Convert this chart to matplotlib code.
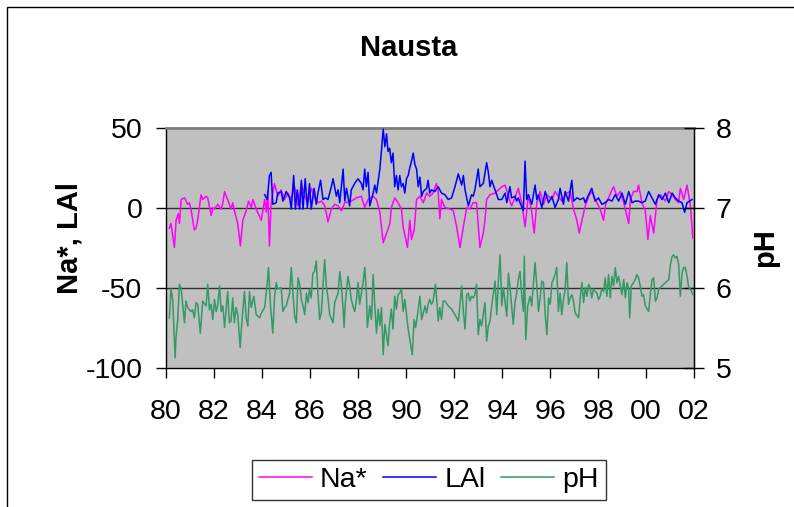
import matplotlib
matplotlib.use("Agg")
import matplotlib.pyplot as plt
from matplotlib.lines import Line2D
from matplotlib.patches import Rectangle
from matplotlib.ticker import FixedLocator, FuncFormatter

plt.rcParams['font.family'] = ['Liberation Sans', 'DejaVu Sans']
plt.rcParams['axes.unicode_minus'] = False

# ---- data -----------------------------------------------------------
na_year = [1980.14, 1980.21, 1980.35, 1980.42, 1980.51, 1980.56, 1980.63, 1980.77, 1980.90, 1980.97,
           1981.04, 1981.18, 1981.25, 1981.32, 1981.46, 1981.53, 1981.67, 1981.74, 1981.88, 1981.95,
           1982.02, 1982.16, 1982.30, 1982.37, 1982.44, 1982.51, 1982.57, 1982.71, 1982.78, 1982.85, 1982.99,
           1983.10, 1983.20, 1983.34, 1983.44, 1983.55, 1983.62, 1983.76, 1983.97,
           1984.11, 1984.18, 1984.24, 1984.31, 1984.38, 1984.52, 1984.66, 1984.80, 1984.94,
           1985.08, 1985.20, 1985.36, 1985.50, 1985.64, 1985.78, 1985.92,
           1986.06, 1986.20, 1986.34, 1986.48, 1986.62, 1986.75, 1986.89,
           1987.03, 1987.17, 1987.31, 1987.45, 1987.72, 1987.93,
           1988.14, 1988.28, 1988.42, 1988.63, 1988.77, 1988.91,
           1989.05, 1989.19, 1989.33, 1989.39, 1989.53, 1989.67, 1989.81, 1989.88,
           1990.06, 1990.16, 1990.23, 1990.34, 1990.44, 1990.58, 1990.72, 1990.86, 1990.99,
           1991.13, 1991.27, 1991.34, 1991.41, 1991.48, 1991.62, 1991.83, 1991.97,
           1992.11, 1992.25, 1992.39, 1992.53, 1992.66, 1992.80, 1992.94,
           1993.08, 1993.22, 1993.29, 1993.36, 1993.50, 1993.71, 1993.85, 1993.99,
           1994.13, 1994.27, 1994.40, 1994.54, 1994.68, 1994.82, 1994.96,
           1995.10, 1995.24, 1995.34, 1995.45, 1995.59, 1995.73, 1995.87,
           1996.08, 1996.21, 1996.35, 1996.49, 1996.70, 1996.84, 1996.98,
           1997.12, 1997.22, 1997.33, 1997.47, 1997.61, 1997.74, 1997.88,
           1998.09, 1998.23, 1998.33, 1998.44, 1998.58, 1998.65, 1998.79, 1998.93,
           1999.07, 1999.28, 1999.35, 1999.48, 1999.62, 1999.69, 1999.83, 1999.97,
           2000.08, 2000.18, 2000.32, 2000.46, 2000.60, 2000.81, 2000.95,
           2001.09, 2001.22, 2001.36, 2001.43, 2001.57, 2001.71, 2001.85, 2001.95]
na_val = [-13, -10, -25, -8, -4, -10, 5, 6, 2, 3,
          -1, -14, -13, -8, 8, 5, 7, 6, -5, 0,
          -1, 2, -1, 3, 10, 7, 5, -1, 3, -2, -10,
          -24, -8, -2, 4, 0, 5, -1, -8,
          5, -3, 10, -24, 3, 15, 7, 11, 5,
          9, 5, 13, 1, 15, 7, 3,
          12, 6, 3, 4, 1, -9, -1,
          2, 1, -2, 3, 4, 6,
          7, 0, 5, 7, 5, -3,
          -22, -16, -10, 0, 6, 3, -1, -12,
          -25, -8, -20, -14, 5, 7, 3, 9, 7,
          9, 15, 10, -7, 5, 0, -1, -2,
          -12, -25, -12, 0, -1, 3, 3,
          -25, -16, -8, 5, 8, 9, 11, 13,
          14, 7, 1, 6, 12, 3, -12,
          8, -3, -16, 3, 10, 2, 8,
          5, 10, 7, 4, 9, 10, -1,
          -8, -16, -8, 1, 7, 10, 5,
          -1, -8, 3, 6, 11, 13, 7, 10,
          3, -10, 5, 10, 10, 14, 3, -2,
          -20, -5, -16, 5, 8, 4, 10,
          8, 5, 3, 12, 5, 14, 1, -19]

lal_year = [1984.11, 1984.22, 1984.31, 1984.38, 1984.45, 1984.59, 1984.66, 1984.80, 1984.87,
            1985.01, 1985.15, 1985.22, 1985.32, 1985.39, 1985.47, 1985.57, 1985.64, 1985.71, 1985.80, 1985.89, 1985.98,
            1986.05, 1986.17, 1986.26, 1986.33, 1986.44, 1986.54, 1986.64, 1986.75, 1986.89, 1986.96,
            1987.10, 1987.17, 1987.24, 1987.38, 1987.45, 1987.52, 1987.65, 1987.72, 1987.86,
            1988.00, 1988.14, 1988.21, 1988.28, 1988.35, 1988.42, 1988.49, 1988.63, 1988.70, 1988.77, 1988.91, 1988.98,
            1989.05, 1989.12, 1989.19, 1989.25, 1989.32, 1989.39, 1989.46, 1989.53, 1989.60, 1989.67, 1989.74, 1989.81, 1989.88, 1989.95,
            1990.02, 1990.09, 1990.16, 1990.23, 1990.30, 1990.37, 1990.44, 1990.51, 1990.58, 1990.65, 1990.72, 1990.86, 1990.92, 1990.99,
            1991.06, 1991.20, 1991.34, 1991.48, 1991.62, 1991.76, 1991.90,
            1992.04, 1992.18, 1992.32, 1992.39, 1992.46, 1992.53, 1992.60, 1992.73, 1992.80, 1992.87,
            1993.01, 1993.08, 1993.22, 1993.36, 1993.43, 1993.50, 1993.57, 1993.71, 1993.85, 1993.99,
            1994.13, 1994.20, 1994.33, 1994.40, 1994.54, 1994.61, 1994.68, 1994.75, 1994.89, 1994.96,
            1995.03, 1995.10, 1995.24, 1995.38, 1995.45, 1995.52, 1995.66, 1995.80, 1995.94,
            1996.08, 1996.21, 1996.35, 1996.42, 1996.56, 1996.63, 1996.77, 1996.91, 1996.98,
            1997.12, 1997.26, 1997.40, 1997.47, 1997.61, 1997.74, 1997.88,
            1998.02, 1998.16, 1998.30, 1998.44, 1998.58, 1998.72, 1998.86,
            1999.00, 1999.14, 1999.28, 1999.42, 1999.55, 1999.69, 1999.83, 1999.97,
            2000.11, 2000.25, 2000.39, 2000.53, 2000.67, 2000.81, 2000.95,
            2001.09, 2001.22, 2001.36, 2001.50, 2001.61, 2001.71, 2001.92]
lal_val = [8, 5, 20, 22, 2, 3, 9, 10, 4,
           10, 6, -1, 20, -1, 11, -1, 17, -1, 18, 0, 15,
           -1, 12, 2, 9, 17, 5, 6, 5, 13, 18,
           7, 11, 3, 24, 4, 12, 1, 11, 15,
           18, 15, 11, 24, 13, 22, 1, 9, 14, 9, 24, 36,
           49, 38, 46, 35, 37, 28, 34, 13, 20, 11, 20, 13, 15, 9,
           18, 20, 25, 29, 34, 27, 24, 13, 19, 7, 10, 12, 17, 9,
           11, 10, 13, 9, 8, 5, 6,
           13, 21, 14, 20, 11, 6, 1, 8, 7, 11,
           24, 13, 15, 28, 22, 13, 17, 11, 5, 5,
           9, 3, 13, 6, 7, 4, 6, 3, -2, 29,
           5, 8, 2, 14, 5, 8, 0, 10, 3,
           7, 0, 5, 12, 2, 10, 4, 17, 4,
           6, 5, 6, 3, 8, 12, 4,
           6, 2, 3, 5, 4, 8, 4,
           9, 2, 10, 3, 4, 4, 3, 4,
           10, 6, 2, 8, 5, 9, 3,
           9, 6, 4, 3, -3, 3, 5]

ph_year = [1980.14, 1980.21, 1980.28, 1980.38, 1980.42, 1980.49, 1980.56, 1980.63, 1980.77, 1980.83, 1980.90,
           1981.04, 1981.11, 1981.18, 1981.25, 1981.32, 1981.43, 1981.53, 1981.67, 1981.74, 1981.81, 1981.88, 1981.95,
           1982.02, 1982.09, 1982.16, 1982.23, 1982.30, 1982.37, 1982.44, 1982.51, 1982.57, 1982.64, 1982.71, 1982.78, 1982.85, 1982.92, 1982.99,
           1983.09, 1983.16, 1983.27, 1983.34, 1983.41, 1983.48, 1983.55, 1983.66, 1983.76, 1983.90, 1983.97,
           1984.11, 1984.22, 1984.27, 1984.36, 1984.45, 1984.52, 1984.59, 1984.66, 1984.80, 1984.87, 1984.94,
           1985.01, 1985.08, 1985.15, 1985.22, 1985.29, 1985.36, 1985.43, 1985.50, 1985.57, 1985.64, 1985.71, 1985.78, 1985.85, 1985.92, 1985.98,
           1986.05, 1986.12, 1986.19, 1986.26, 1986.33, 1986.40, 1986.47, 1986.61, 1986.68, 1986.75, 1986.82, 1986.96,
           1987.03, 1987.17, 1987.24, 1987.31, 1987.38, 1987.42, 1987.47, 1987.58, 1987.65, 1987.72, 1987.79, 1987.86, 1987.93,
           1988.00, 1988.07, 1988.21, 1988.28, 1988.35, 1988.39, 1988.49, 1988.56, 1988.63, 1988.70, 1988.77, 1988.84, 1988.91, 1988.98,
           1989.05, 1989.12, 1989.19, 1989.25, 1989.32, 1989.39, 1989.46, 1989.53, 1989.60, 1989.67, 1989.74, 1989.81, 1989.88, 1989.95,
           1990.02, 1990.09, 1990.16, 1990.26, 1990.34, 1990.40, 1990.48, 1990.58, 1990.65, 1990.72, 1990.79, 1990.86, 1990.92, 1990.99,
           1991.06, 1991.13, 1991.23, 1991.31, 1991.34, 1991.41, 1991.48, 1991.55, 1991.62, 1991.76, 1991.90,
           1992.04, 1992.18, 1992.25, 1992.32, 1992.39, 1992.46, 1992.53, 1992.60, 1992.66, 1992.73, 1992.80, 1992.87, 1992.94,
           1993.01, 1993.08, 1993.15, 1993.29, 1993.36, 1993.43, 1993.50, 1993.57, 1993.71, 1993.78, 1993.85, 1993.92, 1993.99,
           1994.06, 1994.13, 1994.20, 1994.27, 1994.33, 1994.40, 1994.47, 1994.54, 1994.61, 1994.68, 1994.75, 1994.82, 1994.89, 1994.93, 1994.99,
           1995.07, 1995.17, 1995.24, 1995.31, 1995.38, 1995.45, 1995.52, 1995.59, 1995.66, 1995.73, 1995.80, 1995.87, 1995.94,
           1996.01, 1996.08, 1996.14, 1996.21, 1996.28, 1996.35, 1996.42, 1996.49, 1996.56, 1996.63, 1996.70, 1996.77, 1996.84, 1996.91, 1996.98,
           1997.05, 1997.19, 1997.26, 1997.33, 1997.40, 1997.47, 1997.54, 1997.61, 1997.67, 1997.74, 1997.81, 1997.95,
           1998.02, 1998.09, 1998.16, 1998.23, 1998.30, 1998.37, 1998.44, 1998.51, 1998.58, 1998.65, 1998.72, 1998.79, 1998.86, 1998.93,
           1999.00, 1999.07, 1999.14, 1999.21, 1999.28, 1999.32, 1999.39, 1999.48, 1999.55, 1999.62, 1999.69, 1999.76, 1999.83, 1999.90, 1999.97,
           2000.11, 2000.18, 2000.25, 2000.32, 2000.39, 2000.46, 2000.53, 2000.67, 2000.81, 2000.95,
           2001.02, 2001.09, 2001.15, 2001.22, 2001.29, 2001.36, 2001.43, 2001.50, 2001.57, 2001.64, 2001.71, 2001.78, 2001.85, 2001.96]
ph_val = [5.62, 5.98, 5.85, 5.12, 5.39, 5.60, 6.04, 5.99, 5.56, 5.83, 5.75,
          5.70, 5.72, 5.62, 5.81, 5.79, 5.43, 5.83, 5.77, 6.04, 5.72, 5.79, 5.60,
          5.85, 5.70, 5.79, 6.02, 5.70, 5.77, 5.50, 5.75, 5.95, 5.56, 5.58, 5.87, 5.56, 5.75, 5.66,
          5.25, 5.56, 5.95, 5.62, 5.52, 5.95, 5.75, 5.89, 5.66, 5.62, 5.68,
          5.75, 6.06, 6.25, 5.75, 5.43, 5.87, 6.06, 5.98, 6.00, 5.70, 5.75,
          5.77, 5.85, 5.93, 6.25, 5.93, 5.64, 5.56, 6.12, 6.04, 5.85, 5.77, 5.66, 5.93, 5.81, 5.98,
          5.87, 6.18, 6.20, 6.33, 5.93, 5.60, 5.68, 6.35, 6.02, 5.87, 5.66, 5.56,
          5.81, 5.93, 6.20, 6.02, 5.73, 5.50, 5.81, 6.14, 6.02, 5.85, 5.77, 5.70, 5.83,
          6.06, 5.79, 6.06, 6.25, 5.93, 5.50, 5.77, 5.60, 6.16, 5.77, 5.43, 5.73, 5.52, 5.75,
          5.16, 5.54, 5.39, 5.27, 5.56, 5.73, 5.48, 5.89, 5.73, 5.91, 5.93, 5.98, 5.70, 5.85,
          5.66, 5.48, 5.35, 5.16, 5.60, 5.50, 5.66, 5.89, 5.60, 5.68, 5.77, 5.68, 5.79, 5.85,
          5.79, 5.83, 6.04, 5.73, 5.58, 5.75, 5.60, 5.83, 5.83, 5.77, 5.73,
          5.66, 5.58, 5.79, 6.02, 5.70, 5.48, 5.91, 5.93, 5.83, 5.89, 5.87, 5.91, 6.04,
          5.41, 5.60, 5.52, 5.81, 5.33, 5.52, 5.58, 5.77, 6.08, 5.66, 6.08, 6.41, 5.77,
          6.00, 5.81, 5.64, 6.18, 6.02, 5.77, 5.54, 5.81, 5.93, 6.10, 6.20, 5.91, 5.70, 6.39, 5.35,
          5.77, 5.89, 5.77, 6.06, 6.31, 6.02, 5.70, 5.87, 6.08, 6.06, 5.66, 5.41, 5.87,
          5.79, 6.06, 6.10, 6.16, 6.25, 5.70, 5.93, 5.66, 5.85, 5.98, 6.31, 5.79, 5.87, 5.91, 5.83,
          5.68, 5.62, 5.87, 6.06, 5.81, 6.00, 5.89, 6.04, 6.00, 5.87, 5.98, 5.93,
          5.85, 5.89, 5.98, 5.95, 6.12, 5.89, 6.16, 5.87, 6.14, 6.02, 6.25, 6.06, 6.14, 6.02,
          5.91, 6.10, 5.87, 6.06, 5.98, 5.62, 6.02, 6.06, 6.10, 6.16, 6.12, 6.02, 5.89, 5.91, 5.77,
          5.70, 5.91, 6.10, 6.12, 5.83, 5.87, 5.98, 6.02, 6.06, 6.10,
          6.29, 6.39, 6.41, 6.37, 6.39, 6.29, 5.89, 6.18, 6.25, 6.25, 6.14, 6.00, 5.98, 5.91]

year_ticks = list(range(1980, 2003, 2))
left_ticks = [-100, -50, 0, 50]
right_ticks = [5, 6, 7, 8]

# ---- figure ---------------------------------------------------------
W, H = 794, 507
fig = plt.figure(figsize=(W / 100, H / 100), dpi=100)
fig.patch.set_facecolor('white')

# chart-area frame (its right and bottom edges lie outside the canvas)
fig.add_artist(Rectangle((7 / W, -0.02), 1.05 - 7 / W, 1.02 - 7 / H,
                         transform=fig.transFigure, fill=False,
                         edgecolor='black', linewidth=1.0))

L, R, T, B = 166, 694, 127.5, 367.5
ax = fig.add_axes([L / W, 1 - B / H, (R - L) / W, (B - T) / H])
ax.set_facecolor('#C0C0C0')

ax.plot(na_year, na_val, color='#FF00FF', linewidth=1.1, label='Na*', zorder=3)
ax.plot(lal_year, lal_val, color='#0000FF', linewidth=1.1, label='LAl', zorder=4)

ax.set_xlim(1980, 2002)
ax.set_ylim(-100, 50)
ax.xaxis.set_major_locator(FixedLocator(year_ticks))
ax.xaxis.set_major_formatter(FuncFormatter(lambda v, p: f"{int(round(v)) % 100:02d}"))
ax.yaxis.set_major_locator(FixedLocator(left_ticks))

for v in (-50, 0):
    ax.axhline(v, color='#303030', linewidth=1.0, zorder=2)

for side in ('left', 'bottom', 'right'):
    ax.spines[side].set_color('black')
    ax.spines[side].set_linewidth(1.0)
ax.spines['top'].set_color('#808080')
ax.spines['top'].set_linewidth(2.0)

ax.tick_params(axis='both', labelsize=20.5, colors='black', width=1.0)
ax.tick_params(axis='y', direction='out', length=7, pad=10)
ax.tick_params(axis='x', direction='out', length=7, pad=16)

ax2 = ax.twinx()
ax2.plot(ph_year, ph_val, color='#339966', linewidth=1.1, label='pH', zorder=5)
ax2.set_ylim(5, 8)
ax2.yaxis.set_major_locator(FixedLocator(right_ticks))
ax2.tick_params(axis='y', direction='inout', length=15, width=1.0, pad=8, labelsize=20.5)
for s in ax2.spines.values():
    s.set_visible(False)
ax2.spines['right'].set_visible(True)
ax2.spines['right'].set_color('black')

fig.text(409 / W, 1 - 56 / H, 'Nausta', ha='center', va='baseline',
         fontsize=21, fontweight='bold')
fig.text(70 / W, 1 - 238 / H, 'Na*, LAl', rotation=90, ha='center', va='center',
         fontsize=21, fontweight='bold')
fig.text(765 / W, 1 - 248 / H, 'pH', rotation=90, ha='center', va='center',
         fontsize=21, fontweight='bold')

handles = [Line2D([], [], color='#FF00FF', linewidth=1.1),
           Line2D([], [], color='#0000FF', linewidth=1.1),
           Line2D([], [], color='#339966', linewidth=1.1)]
leg = fig.legend(handles, ['Na*', 'LAl', 'pH'], loc='center',
                 bbox_to_anchor=(429 / W, 1 - 480 / H), ncol=3, fontsize=20.5,
                 frameon=True, fancybox=False, edgecolor='black',
                 handlelength=1.85, handletextpad=0.3, columnspacing=0.55,
                 borderpad=0.25, borderaxespad=0)
leg.get_frame().set_linewidth(1.0)

fig.savefig('out.png', dpi=100)
